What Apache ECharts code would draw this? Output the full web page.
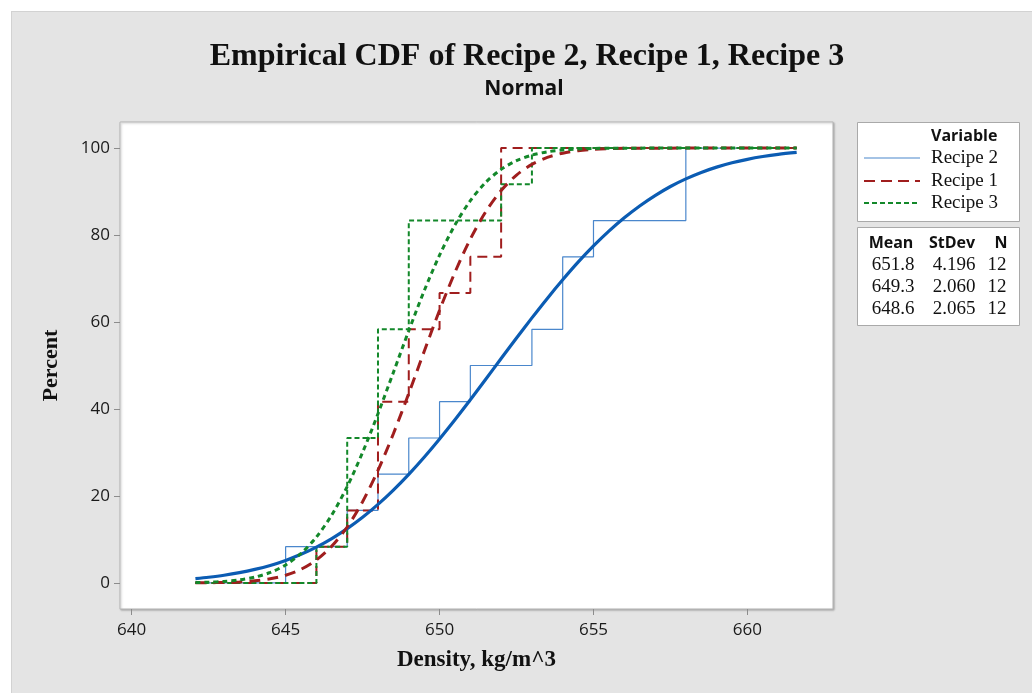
<!DOCTYPE html>
<html><head><meta charset="utf-8">
<script src="https://cdn.jsdelivr.net/npm/echarts@6/dist/echarts.min.js"></script>
<style>
html,body{margin:0;padding:0;background:#fff;}
#bg{position:absolute;left:11px;top:11px;width:1021px;height:682px;background:#e4e4e4;border-top:1px solid #d2d2d2;border-left:1px solid #d2d2d2;box-sizing:border-box;}
#c{position:absolute;left:0;top:0;width:1032px;height:693px;}
</style>
</head><body><div id="bg"></div><div id="c"></div>
<script>
// ---- data ----
const seriesNames = ['Recipe 2', 'Recipe 1', 'Recipe 3'];
const xRangeStart = 642.07, xRangeEnd = 661.6;
const recipe2StepX = [645, 647, 648, 649, 650, 651, 653, 654, 655, 658];
const recipe2StepPct = [8.33, 16.67, 25, 33.33, 41.67, 50, 58.33, 75, 83.33, 100];
const recipe1StepX = [646, 647, 648, 649, 650, 651, 652];
const recipe1StepPct = [8.33, 16.67, 41.67, 58.33, 66.67, 75, 100];
const recipe3StepX = [646, 647, 648, 649, 652, 653];
const recipe3StepPct = [8.33, 33.33, 58.33, 83.33, 91.67, 100];
const fitX = [642.07, 642.5, 643, 643.5, 644, 644.5, 645, 645.5, 646, 646.5, 647, 647.5, 648, 648.5, 649, 649.5, 650, 650.5,
  651, 651.5, 652, 652.5, 653, 653.5, 654, 654.5, 655, 655.5, 656, 656.5, 657, 657.5, 658, 658.5, 659, 659.5, 660, 660.5, 661, 661.6];
const recipe2FitPct = [1.0, 1.31, 1.76, 2.35, 3.10, 4.02, 5.17, 6.57, 8.23, 10.19, 12.47, 15.08, 18.06, 21.36, 24.98, 28.91, 33.11, 37.52,
  42.11, 46.85, 51.6, 56.32, 60.95, 65.43, 69.71, 73.76, 77.49, 80.89, 83.96, 86.69, 89.08, 91.17, 92.92, 94.40, 95.62, 96.62, 97.42, 98.06, 98.56, 99.0];
const recipe1FitPct = [0.02, 0.05, 0.11, 0.23, 0.48, 0.95, 1.77, 3.14, 5.28, 8.46, 12.86, 18.67, 25.88, 34.31, 43.57, 53.23, 62.70, 71.43,
  79.07, 85.36, 90.23, 93.79, 96.25, 97.85, 98.83, 99.39, 99.70, 99.86, 99.94, 99.97, 99.99, 99.99, 100, 100, 100, 100, 100, 100, 100, 100];
const recipe3FitPct = [0.08, 0.16, 0.34, 0.69, 1.32, 2.40, 4.14, 6.77, 10.55, 15.65, 22.15, 30.01, 38.90, 48.40, 58.00, 67.15, 75.36, 82.33,
  87.90, 92.12, 95.10, 97.11, 98.38, 99.14, 99.56, 99.79, 99.91, 99.96, 99.98, 99.99, 100, 100, 100, 100, 100, 100, 100, 100, 100, 100];
const meanVals = ['651.8', '649.3', '648.6'];
const stdevVals = ['4.196', '2.060', '2.065'];
const nVals = ['12', '12', '12'];
const xTicks = [640, 645, 650, 655, 660];
const yTicks = [0, 20, 40, 60, 80, 100];
const titleText = 'Empirical CDF of Recipe 2, Recipe 1, Recipe 3';
const subtitleText = 'Normal';

// ---- build ----
function stepData(xs, ps) {
  const d = [[xRangeStart, 0]];
  xs.forEach((x, i) => d.push([x, ps[i]]));
  d.push([xRangeEnd, 100]);
  return d;
}
function fitData(ps) { return fitX.map((x, i) => [x, ps[i]]); }

const colors = { r2: '#0b5cb3', r2step: '#4a87cc', r1: '#a01e1e', r3: '#13882a' };
const serif = '"Liberation Serif", "DejaVu Serif", serif';
const sans = '"Open Sans", "Noto Sans", sans-serif';

const chart = echarts.init(document.getElementById('c'), null, { renderer: 'canvas' });

const lx = 857, ly = 122, lw = 162;
const legendRows = [
  { name: seriesNames[0], color: colors.r2step, dash: null, w: 1.2 },
  { name: seriesNames[1], color: colors.r1, dash: [11, 6], w: 2 },
  { name: seriesNames[2], color: colors.r3, dash: [5, 3], w: 2 }
];
const graphics = [
  { type: 'text', x: 527, y: 57, style: { text: titleText, font: 'bold 32px ' + serif, fill: '#111', align: 'center', verticalAlign: 'middle' } },
  { type: 'text', x: 524, y: 89, style: { text: subtitleText, font: 'bold 21px ' + sans, fill: '#111', align: 'center', verticalAlign: 'middle' } },
  { type: 'rect', shape: { x: lx + 0.5, y: ly + 0.5, width: lw, height: 99 }, style: { fill: '#fff', stroke: '#a9a9a9', lineWidth: 1 } },
  { type: 'rect', shape: { x: lx + 0.5, y: 227.5, width: lw, height: 98 }, style: { fill: '#fff', stroke: '#a9a9a9', lineWidth: 1 } },
  { type: 'text', x: 931, y: 136, style: { text: 'Variable', font: 'bold 16px ' + sans, fill: '#111', verticalAlign: 'middle' } }
];
const rowY = [158, 181, 203];
legendRows.forEach((r, i) => {
  graphics.push({ type: 'line', shape: { x1: 864, y1: rowY[i], x2: 920, y2: rowY[i] }, style: { stroke: r.color, lineWidth: r.w, lineDash: r.dash } });
  graphics.push({ type: 'text', x: 931, y: rowY[i], style: { text: r.name, font: '19px ' + serif, fill: '#111', verticalAlign: 'middle' } });
});
graphics.push({ type: 'text', x: 891, y: 243, style: { text: 'Mean', font: 'bold 16px ' + sans, fill: '#111', align: 'center', verticalAlign: 'middle' } });
graphics.push({ type: 'text', x: 952, y: 243, style: { text: 'StDev', font: 'bold 16px ' + sans, fill: '#111', align: 'center', verticalAlign: 'middle' } });
graphics.push({ type: 'text', x: 1001, y: 243, style: { text: 'N', font: 'bold 16px ' + sans, fill: '#111', align: 'center', verticalAlign: 'middle' } });
const tRowY = [265, 287, 309];
meanVals.forEach((m, i) => {
  graphics.push({ type: 'text', x: 893, y: tRowY[i], style: { text: m, font: '19px ' + serif, fill: '#111', align: 'center', verticalAlign: 'middle' } });
  graphics.push({ type: 'text', x: 954, y: tRowY[i], style: { text: stdevVals[i], font: '19px ' + serif, fill: '#111', align: 'center', verticalAlign: 'middle' } });
  graphics.push({ type: 'text', x: 997, y: tRowY[i], style: { text: nVals[i], font: '19px ' + serif, fill: '#111', align: 'center', verticalAlign: 'middle' } });
});

const option = {
  backgroundColor: 'transparent',
  animation: false,
  grid: { left: 120, top: 122, width: 713, height: 487, show: true, backgroundColor: '#fff', borderColor: '#b5b5b5', borderWidth: 1,
          shadowColor: 'rgba(0,0,0,0.25)', shadowBlur: 2, shadowOffsetX: 1, shadowOffsetY: 1 },
  xAxis: {
    type: 'value', min: 639.62, max: 662.78,
    name: 'Density, kg/m^3', nameLocation: 'middle', nameGap: 40,
    nameTextStyle: { fontFamily: serif, fontWeight: 'bold', fontSize: 23, color: '#111' },
    axisLine: { show: false, onZero: false },
    axisTick: { show: true, length: 6, lineStyle: { color: '#8c8c8c' }, customValues: xTicks },
    axisLabel: { customValues: xTicks, fontFamily: sans, fontSize: 17, color: '#1a1a1a', margin: 13 },
    splitLine: { show: false }
  },
  yAxis: {
    type: 'value', min: -6, max: 106,
    name: 'Percent', nameLocation: 'middle', nameGap: 58, nameRotate: 90,
    nameTextStyle: { fontFamily: serif, fontWeight: 'bold', fontSize: 22, color: '#111' },
    axisLine: { show: false, onZero: false },
    axisTick: { show: true, length: 6, lineStyle: { color: '#8c8c8c' }, customValues: yTicks },
    axisLabel: { customValues: yTicks, fontFamily: sans, fontSize: 17, color: '#1a1a1a', margin: 10 },
    splitLine: { show: false }
  },
  series: [
    { name: seriesNames[0] + ' ECDF', type: 'line', step: 'end', showSymbol: false, data: stepData(recipe2StepX, recipe2StepPct),
      lineStyle: { color: colors.r2step, width: 1.2 }, z: 2 },
    { name: seriesNames[1] + ' ECDF', type: 'line', step: 'end', showSymbol: false, data: stepData(recipe1StepX, recipe1StepPct),
      lineStyle: { color: colors.r1, width: 2, type: [10, 6] }, z: 2 },
    { name: seriesNames[2] + ' ECDF', type: 'line', step: 'end', showSymbol: false, data: stepData(recipe3StepX, recipe3StepPct),
      lineStyle: { color: colors.r3, width: 2, type: [5, 3] }, z: 2 },
    { name: seriesNames[0], type: 'line', smooth: 0.3, showSymbol: false, data: fitData(recipe2FitPct),
      lineStyle: { color: colors.r2, width: 3.2 }, z: 3 },
    { name: seriesNames[1], type: 'line', smooth: 0.3, showSymbol: false, data: fitData(recipe1FitPct),
      lineStyle: { color: colors.r1, width: 3, type: [11, 7] }, z: 3 },
    { name: seriesNames[2], type: 'line', smooth: 0.3, showSymbol: false, data: fitData(recipe3FitPct),
      lineStyle: { color: colors.r3, width: 3, type: [5, 4] }, z: 3 }
  ],
  graphic: graphics
};
chart.setOption(option);
</script>
</body></html>
